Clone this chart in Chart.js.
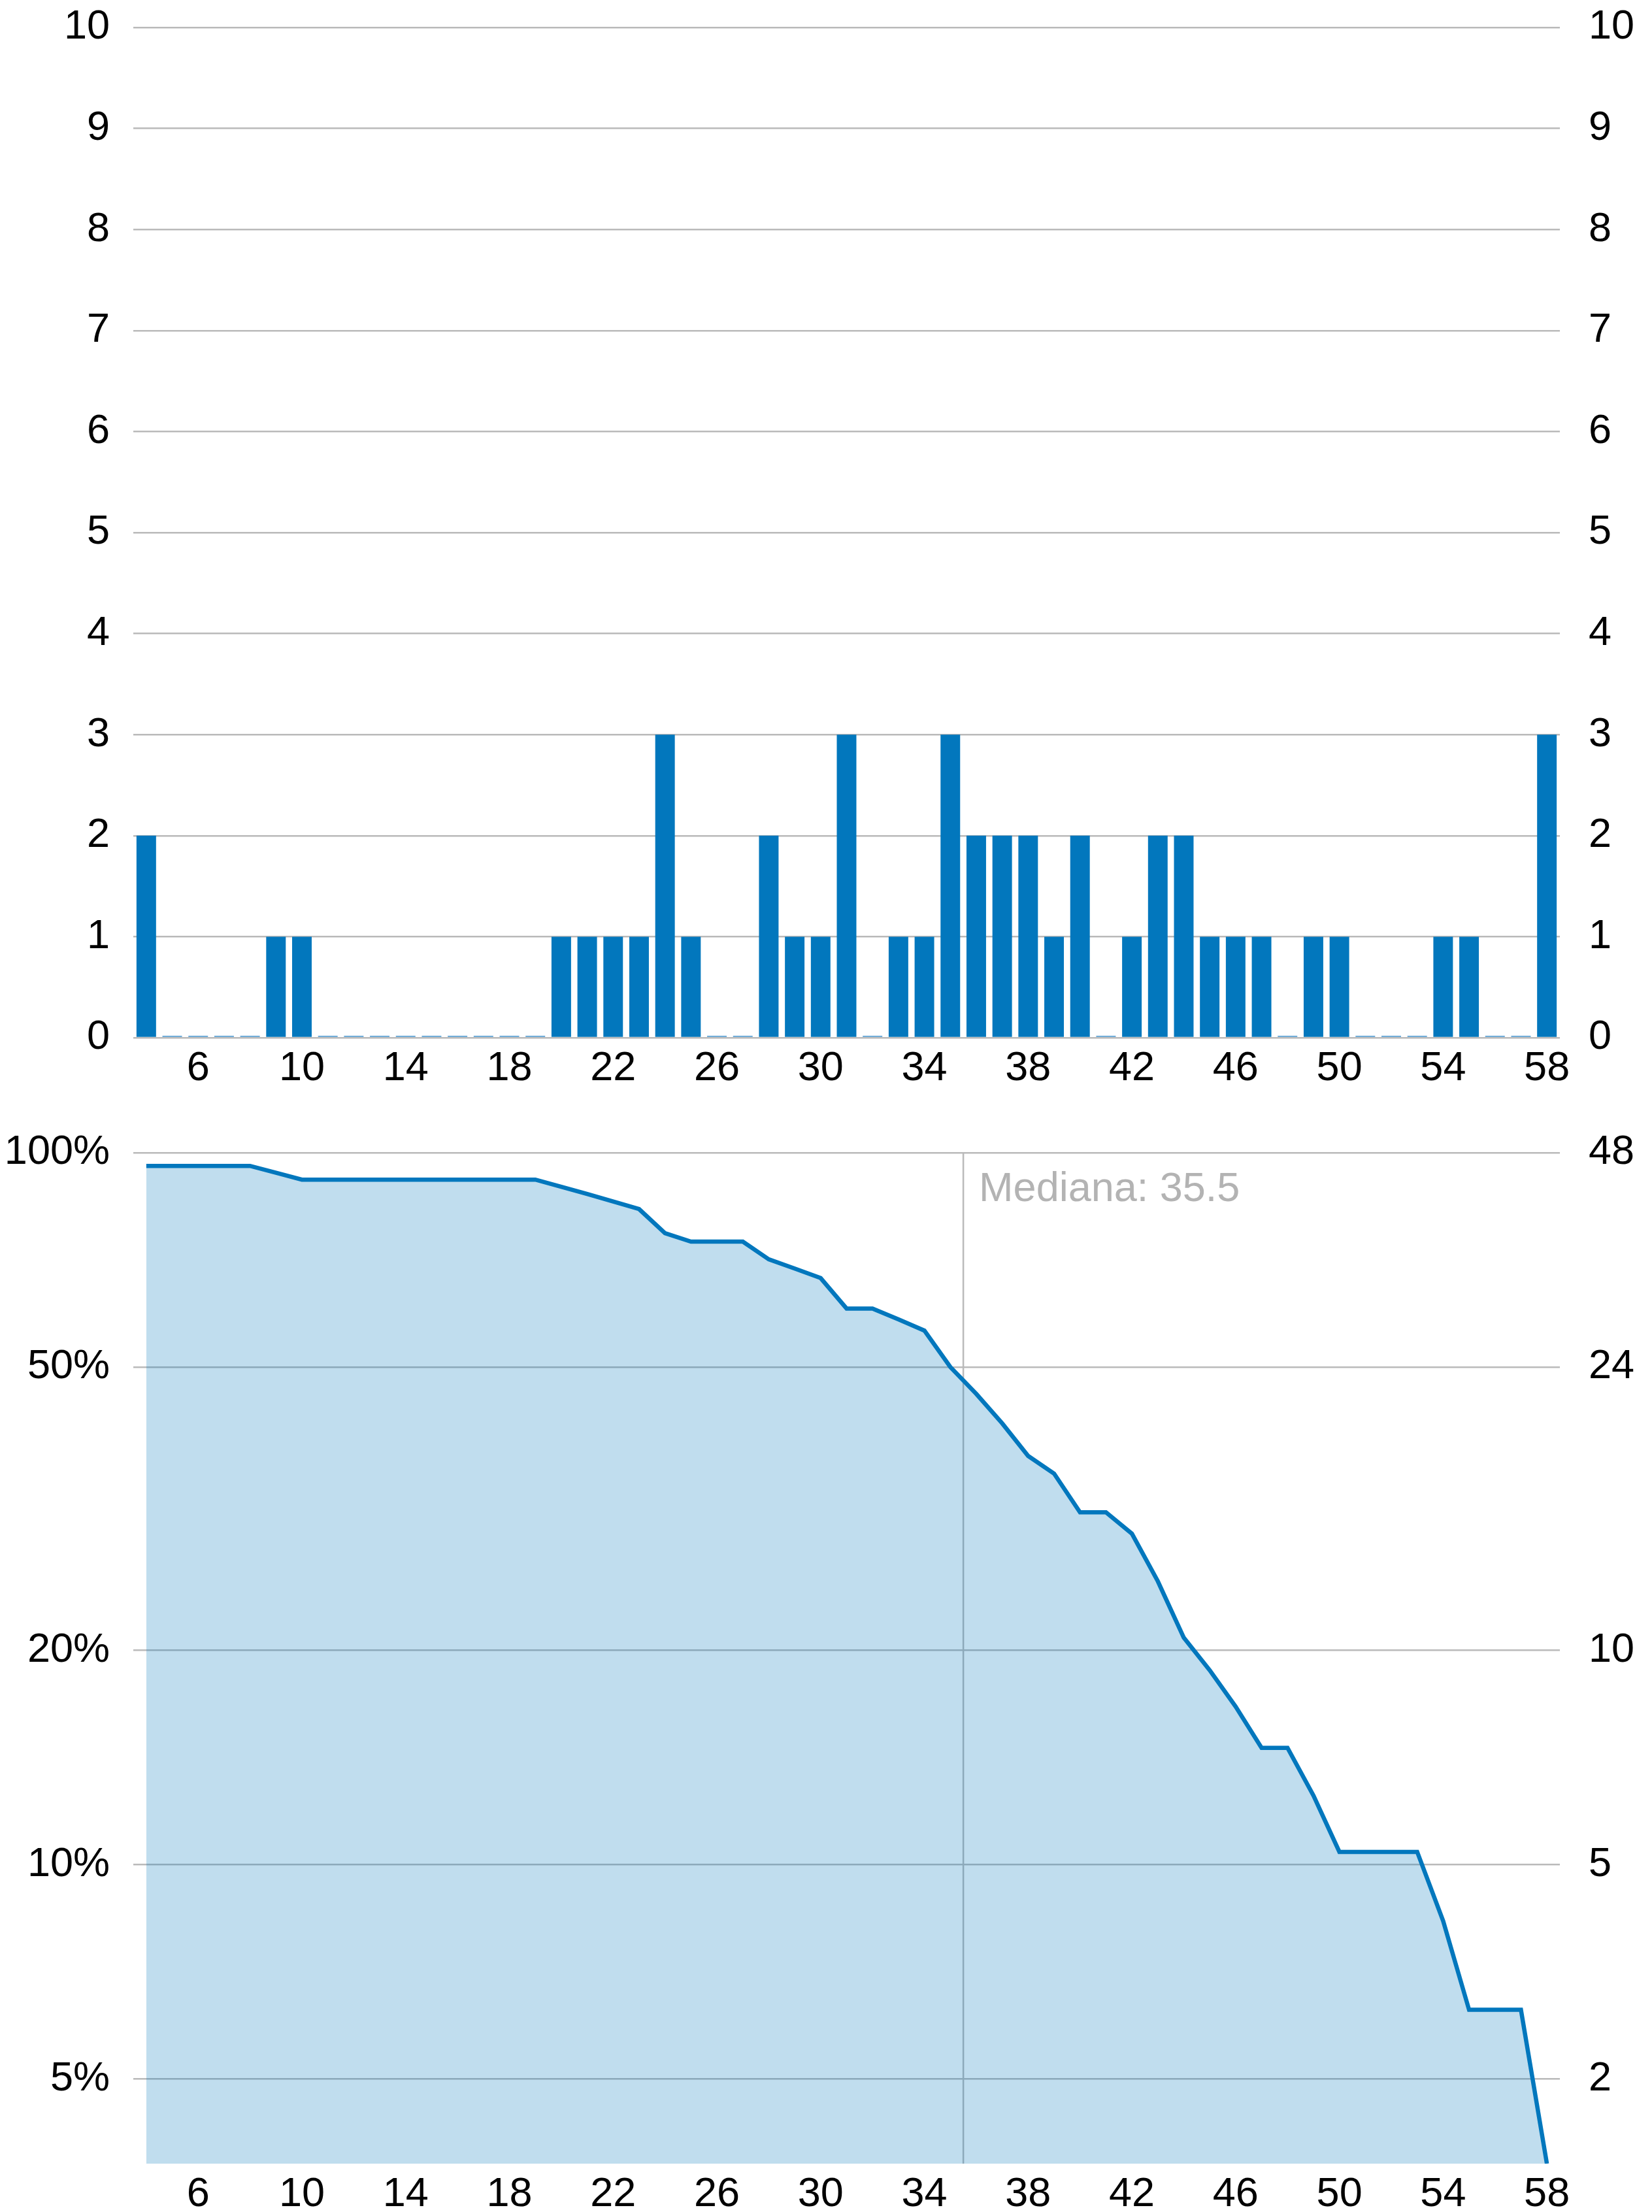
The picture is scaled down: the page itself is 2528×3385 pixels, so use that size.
<!DOCTYPE html>
<html>
<head>
<meta charset="utf-8">
<script src="https://cdn.jsdelivr.net/npm/chart.js@4.4.1/dist/chart.umd.min.js"></script>
<style>
  body { margin: 0; background: #fff; }
  canvas { display: block; }
</style>
</head>
<body>
<canvas id="histChart" width="2528" height="1700"></canvas>
<canvas id="survChart" width="2528" height="1685"></canvas>
<script>
// valores del eje x
const categories = ['4','5','6','7','8','9','10','11','12','13','14','15','16','17','18','19','20','21','22','23','24','25','26','27','28','29','30','31','32','33','34','35','36','37','38','39','40','41','42','43','44','45','46','47','48','49','50','51','52','53','54','55','56','57','58'];
// frecuencia por valor (histograma)
const counts = [2,0,0,0,0,1,1,0,0,0,0,0,0,0,0,0,1,1,1,1,3,1,0,0,2,1,1,3,0,1,1,3,2,2,2,1,2,0,1,2,2,1,1,1,0,1,1,0,0,0,1,1,0,0,3];
// cantidad restante (curva de supervivencia)
const survivalCounts = [46,46,46,46,46,45,44,44,44,44,44,44,44,44,44,44,43,42,41,40,37,36,36,36,34,33,32,29,29,28,27,24,22,20,18,17,15,15,14,12,10,9,8,7,7,6,5,5,5,5,4,3,3,3,0];
const total = 48;
const xTickLabels = ['6','10','14','18','22','26','30','34','38','42','46','50','54','58'];
const pctTicks = [5, 10, 20, 50, 100];
const pctTickLabels = ['5%','10%','20%','50%','100%'];
const countTickLabels = ['2','5','10','24','48'];
const median = 35.5;
const medianLabel = 'Mediana: 35.5';

const blue = '#0277bd';
const gridColor = '#bababa';
const yMinPct = 3.8;

Chart.defaults.font.family = '"Liberation Sans", Arial, sans-serif';
Chart.defaults.font.size = 63;
Chart.defaults.color = '#000';

function xAxis(height) {
    return {
        type: 'category',
        offset: true,
        grid: { display: false },
        border: { display: false },
        ticks: {
            autoSkip: false,
            maxRotation: 0,
            padding: 2,
            callback: function (value) {
                const lab = this.getLabelForValue(value);
                return xTickLabels.includes(lab) ? lab : '';
            }
        },
        afterFit: s => { s.height = height; s.paddingLeft = 0; s.paddingRight = 0; }
    };
}

// ancho fijo de los ejes verticales, sin relleno extra arriba/abajo
function fitY(width) {
    return s => { s.width = width; s.paddingTop = 0; s.paddingBottom = 0; };
}

// Histograma
new Chart(document.getElementById('histChart'), {
    type: 'bar',
    data: {
        labels: categories,
        datasets: [{
            data: counts,
            backgroundColor: ctx => ctx.raw === 0 ? '#5a9fd2' : blue,
            minBarLength: 3,
            categoryPercentage: 1,
            barPercentage: 0.755
        }]
    },
    options: {
        responsive: false,
        animation: false,
        layout: { padding: { top: 42, bottom: 0, left: 0, right: 0 } },
        plugins: { legend: { display: false }, tooltip: { enabled: false } },
        scales: {
            x: xAxis(112),
            y: {
                position: 'left',
                min: 0, max: 10,
                grid: { color: gridColor, lineWidth: 2.5, drawTicks: false },
                border: { display: false },
                ticks: { stepSize: 1, padding: 36 },
                afterFit: fitY(204)
            },
            y2: {
                position: 'right',
                min: 0, max: 10,
                grid: { display: false },
                border: { display: false },
                ticks: { stepSize: 1, padding: 36 },
                afterFit: fitY(141)
            }
        }
    }
});

// Línea de mediana y su etiqueta
const medianPlugin = {
    id: 'median',
    beforeDatasetsDraw(chart) {
        const idx = categories.indexOf(String(Math.floor(median))) + (median % 1);
        const x = chart.scales.x.getPixelForValue(idx);
        const area = chart.chartArea;
        const ctx = chart.ctx;
        ctx.save();
        ctx.strokeStyle = gridColor;
        ctx.lineWidth = 2.5;
        ctx.beginPath();
        ctx.moveTo(x, area.top);
        ctx.lineTo(x, area.bottom);
        ctx.stroke();
        ctx.restore();
    },
    afterDatasetsDraw(chart) {
        const idx = categories.indexOf(String(Math.floor(median))) + (median % 1);
        const x = chart.scales.x.getPixelForValue(idx);
        const ctx = chart.ctx;
        ctx.save();
        ctx.fillStyle = '#b3b3b3';
        ctx.font = '63px "Liberation Sans", Arial, sans-serif';
        ctx.textAlign = 'left';
        ctx.textBaseline = 'alphabetic';
        ctx.fillText(medianLabel, x + 24, chart.chartArea.top + 74);
        ctx.restore();
    }
};

// Curva de supervivencia (escala logarítmica)
new Chart(document.getElementById('survChart'), {
    type: 'line',
    data: {
        labels: categories,
        datasets: [{
            data: survivalCounts.map(c => Math.max(c / total * 100, yMinPct)),
            borderColor: blue,
            borderWidth: 6.5,
            backgroundColor: 'rgba(2,119,189,0.25)',
            fill: 'start',
            pointRadius: 0,
            tension: 0
        }]
    },
    options: {
        responsive: false,
        animation: false,
        layout: { padding: { top: 64, bottom: 0, left: 0, right: 0 } },
        plugins: { legend: { display: false }, tooltip: { enabled: false } },
        scales: {
            x: xAxis(74),
            y: {
                type: 'logarithmic',
                position: 'left',
                min: yMinPct, max: 100,
                grid: { color: gridColor, lineWidth: 2.5, drawTicks: false },
                border: { display: false },
                afterBuildTicks: s => { s.ticks = pctTicks.map(v => ({ value: v })); },
                ticks: { padding: 36, callback: (v, i) => pctTickLabels[i] },
                afterFit: fitY(204)
            },
            y2: {
                type: 'logarithmic',
                position: 'right',
                min: yMinPct, max: 100,
                grid: { display: false },
                border: { display: false },
                afterBuildTicks: s => { s.ticks = pctTicks.map(v => ({ value: v })); },
                ticks: { padding: 36, callback: (v, i) => countTickLabels[i] },
                afterFit: fitY(141)
            }
        }
    },
    plugins: [medianPlugin]
});
</script>
</body>
</html>
